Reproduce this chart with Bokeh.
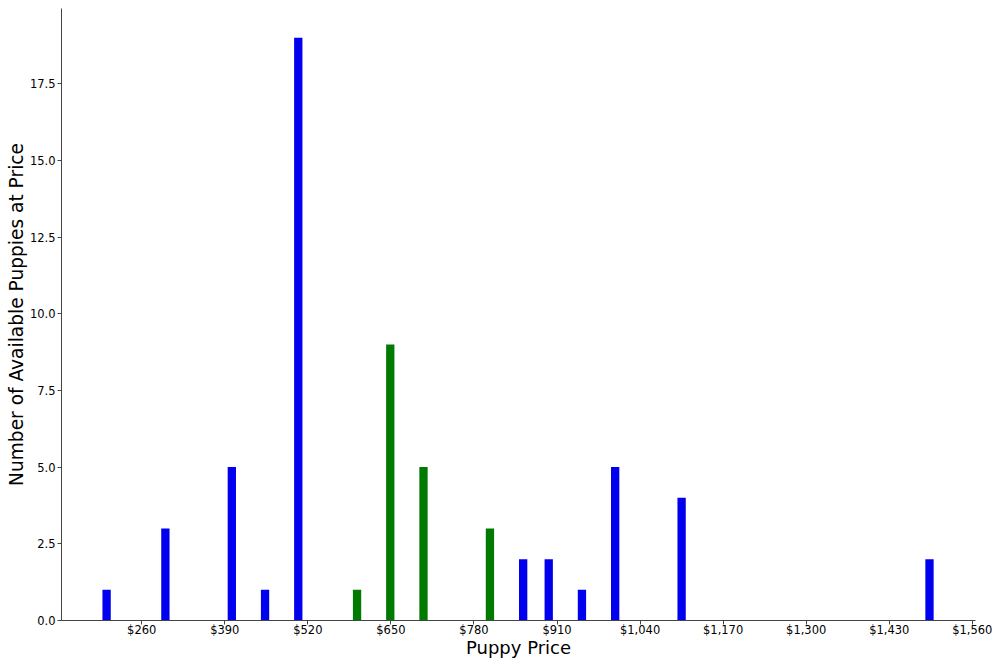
from bokeh.plotting import figure
from bokeh.models import FixedTicker, NumeralTickFormatter, Range1d
from bokeh.embed import file_html
from bokeh.resources import INLINE

blue_prices = [205, 297, 401, 453, 505, 857, 897, 949, 1001, 1105, 1493]
blue_counts = [1, 3, 5, 1, 19, 2, 2, 1, 5, 4, 2]
green_prices = [597, 649, 701, 805]
green_counts = [1, 9, 5, 3]
x_ticks = [260, 390, 520, 650, 780, 910, 1040, 1170, 1300, 1430, 1560]
y_ticks = [0, 2.5, 5, 7.5, 10, 12.5, 15, 17.5]

p = figure(width=1000, height=666, output_backend="svg", toolbar_location=None,
           x_range=Range1d(134.4, 1565), y_range=Range1d(0, 19.95),
           min_border_left=61, min_border_right=25, min_border_top=8, min_border_bottom=46)

p.vbar(x=blue_prices, top=blue_counts, width=13, fill_color="#0000ee", line_color=None)
p.vbar(x=green_prices, top=green_counts, width=13, fill_color="#007a00", line_color=None)

p.xgrid.visible = False
p.ygrid.visible = False
p.outline_line_color = None

p.xaxis.ticker = FixedTicker(ticks=x_ticks)
p.xaxis.formatter = NumeralTickFormatter(format="$0,0")
p.yaxis.ticker = FixedTicker(ticks=y_ticks)
p.yaxis.formatter = NumeralTickFormatter(format="0.0")

for ax in (p.xaxis[0], p.yaxis[0]):
    ax.axis_line_color = "#444444"
    ax.major_tick_line_color = "#444444"
    ax.major_tick_out = 4
    ax.major_tick_in = 0
    ax.minor_tick_line_color = None
    ax.major_label_text_font = "DejaVu Sans"
    ax.major_label_text_font_size = "11.5px"
    ax.major_label_text_color = "black"
    ax.axis_label_text_font = "DejaVu Sans"
    ax.axis_label_text_font_style = "normal"
    ax.axis_label_text_color = "black"

p.xaxis.axis_label_text_font_size = "18px"
p.yaxis.axis_label_text_font_size = "18.6px"
p.xaxis.major_label_standoff = -2
p.xaxis.axis_label_standoff = -3
p.yaxis.major_label_standoff = 2
p.yaxis.axis_label_standoff = 0

p.xaxis.axis_label = "Puppy Price"
p.yaxis.axis_label = "Number of Available Puppies at Price"

open("out.html", "w").write(file_html(p, INLINE))
